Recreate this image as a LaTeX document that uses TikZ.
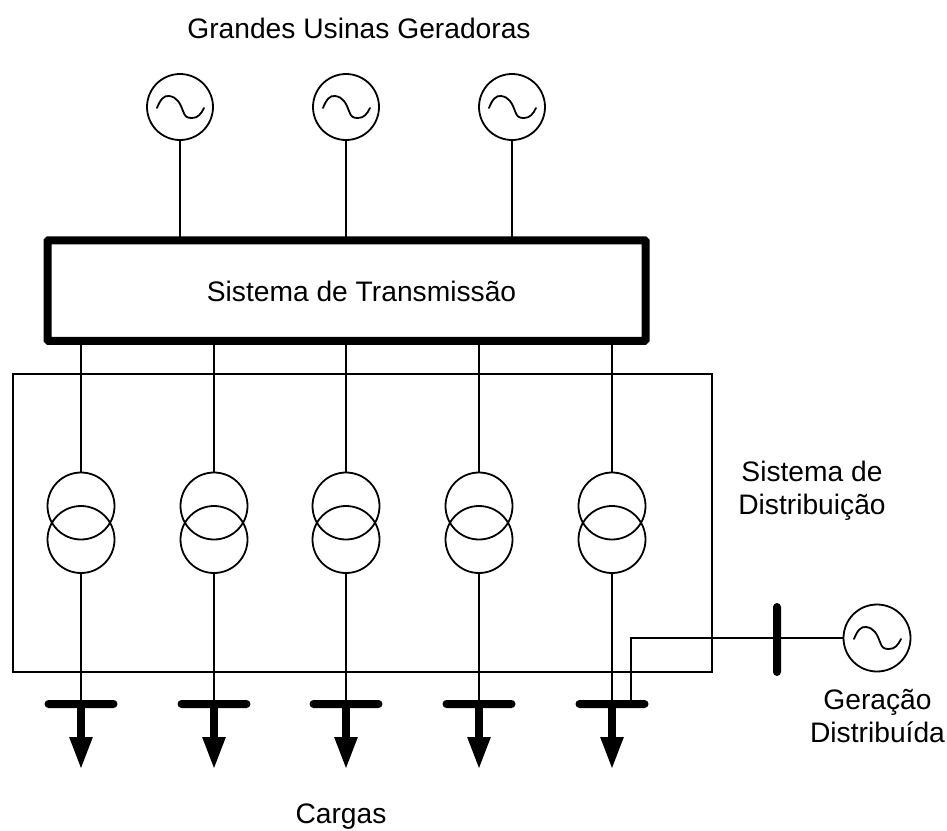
\documentclass[tikz,border=0pt]{standalone}
\usepackage{fontspec}
\setmainfont{Liberation Sans}
\usetikzlibrary{arrows.meta,calc}
\tikzset{
  wire/.style={line width=1.8pt,black},
  gencircle/.style={circle,draw=black,line width=1.8pt,minimum size=66pt,inner sep=0pt,outer sep=0pt},
  tfcircle/.style={circle,draw=black,line width=1.8pt,minimum size=67pt,inner sep=0pt,outer sep=0pt},
  sinewave/.style={line width=1.8pt,line cap=round,line join=round},
  mainbox/.style={draw=black,line width=8pt,rounded corners=1pt,inner sep=0pt,outer sep=0pt,minimum width=598pt,minimum height=100.5pt},
  distbox/.style={draw=black,line width=1.8pt,inner sep=0pt,outer sep=0pt,minimum width=699pt,minimum height=298pt},
  hbus/.style={fill=black,rounded corners=4pt,inner sep=0pt,outer sep=0pt,minimum width=73pt,minimum height=8pt},
  vbus/.style={fill=black,rounded corners=4pt,inner sep=0pt,outer sep=0pt,minimum width=8pt,minimum height=73pt},
  loadarrow/.style={line width=8pt,-{Triangle[length=33pt,width=21pt]}},
  lbl/.style={font=\fontsize{28.2pt}{33pt}\selectfont,align=center,inner sep=0pt}
}
\newcommand{\sinein}[1]{%
  \draw[sinewave] ($(#1)+(-23,1)$) .. controls ($(#1)+(-20,-7)$) and ($(#1)+(-16,-12)$) .. ($(#1)+(-11,-11)$)
    .. controls ($(#1)+(-3,-10)$) and ($(#1)+(0,-4)$) .. ($(#1)+(3,4)$)
    .. controls ($(#1)+(5,10)$) and ($(#1)+(7,11)$) .. ($(#1)+(12,11)$)
    .. controls ($(#1)+(18,11)$) and ($(#1)+(21,7)$) .. ($(#1)+(24,1)$);}
\begin{document}
\begin{tikzpicture}[x=1pt,y=-1pt]
\useasboundingbox (0,0) rectangle (947,830);
% boxes
\node[mainbox] (tx) at (346.5,290.5) {};
\node[distbox] (dist) at (362.5,523) {};
% generators
\node[gencircle] (g1) at (180,107) {};
\node[gencircle] (g2) at (346,107) {};
\node[gencircle] (g3) at (512,107) {};
\foreach \g in {g1,g2,g3}{
  \sinein{\g}
  \draw[wire] (\g.south) -- (\g.south |- tx.north);
}
% feeders
\foreach \n/\x in {a/81,b/214,c/346,d/479,e/612}{
  \node[tfcircle] (\n u) at (\x,506) {};
  \node[tfcircle] (\n l) at (\x,539.5) {};
  \node[hbus] (\n b) at (\x,704) {};
  \coordinate (\n t) at (\x,770);
  \draw[wire] (\n u.north |- tx.south) -- (\n u.north);
  \draw[wire] (\n l.south) -- (\n b.center);
  \draw[loadarrow] (\n b.center) -- (\n t);
}
% distributed generation
\node[gencircle,minimum size=67pt] (gd) at (877,638) {};
\sinein{gd}
\node[vbus] (vb) at (777,639.5) {};
\coordinate (corner) at (631,638);
\draw[wire] (gd.west) -- (corner) -- (corner |- eb.north);
% labels
\node[lbl] (t1) at (359,28) {Grandes Usinas Geradoras};
\node[lbl] (t2) at (361.5,291) {Sistema de Transmissão};
\node[lbl] (t3) at (812,491) {Sistema de\\Distribuição};
\node[lbl] (t4) at (877.5,716.5) {Geração\\Distribuída};
\node[lbl] (t5) at (341,817) {Cargas};
\end{tikzpicture}
\end{document}
